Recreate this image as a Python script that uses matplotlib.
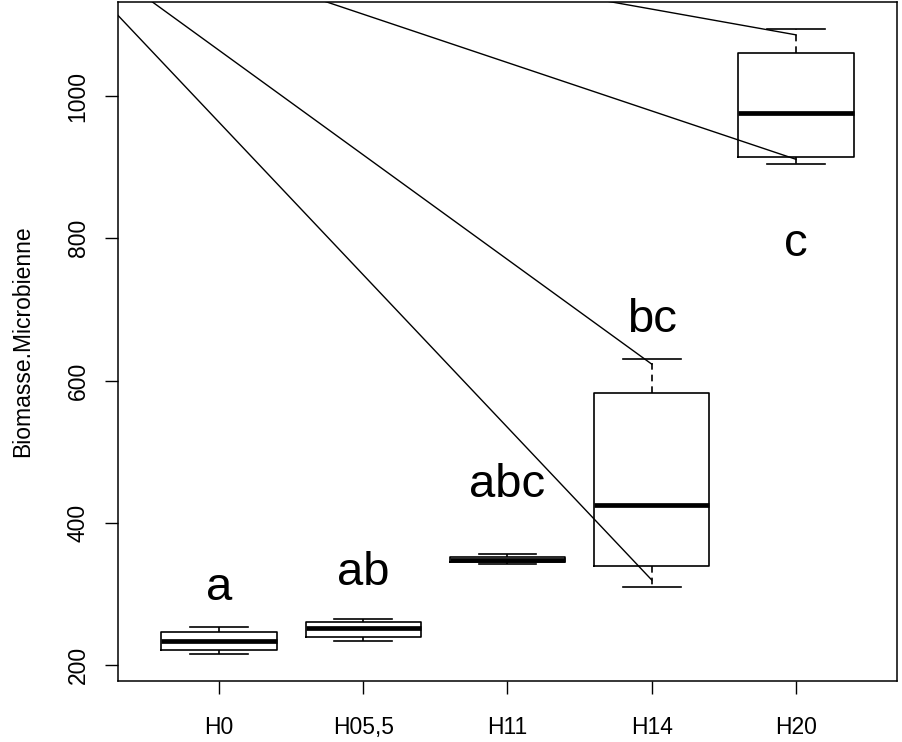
import matplotlib
matplotlib.use("Agg")
import matplotlib.pyplot as plt

# ---- data ----
categories = ["H0", "H05,5", "H11", "H14", "H20"]
whisker_low = [215, 234, 342, 310, 904]
q1 = [221, 239, 345, 339, 914]
median = [234, 252, 348, 425, 976]
q3 = [246, 260, 352, 583, 1060]
whisker_high = [254, 264, 356, 630, 1094]

letters = ["a", "ab", "abc", "bc", "c"]
letter_y = [291, 312, 436, 668, 775]

yticks = [200, 400, 600, 800, 1000]
ylabel = "Biomasse.Microbienne"

# straight lines drawn from a common (off-plot) origin to some whisker ends
line_origin_x = -0.5
line_origin_y = 1285
line_end_x = [4, 4, 5, 5]
line_end_y = [319.5, 623, 911, 1086]

plt.rcParams['font.family'] = ['Liberation Sans', 'DejaVu Sans']

fig = plt.figure(figsize=(9.03, 7.42), dpi=100)
ax = fig.add_axes([118 / 903, 1 - 681 / 742, 779 / 903, 679 / 742])

positions = list(range(1, len(categories) + 1))
stats = []
for i in range(len(categories)):
    stats.append(dict(med=median[i], q1=q1[i], q3=q3[i],
                      whislo=whisker_low[i], whishi=whisker_high[i],
                      fliers=[], label=categories[i]))

lw = 1.2
ax.bxp(stats, positions=positions, widths=0.8, capwidths=0.4,
       showfliers=False,
       boxprops=dict(color='black', linewidth=lw),
       whiskerprops=dict(color='black', linewidth=lw, linestyle=(0, (4, 3))),
       capprops=dict(color='black', linewidth=lw),
       medianprops=dict(color='black', linewidth=3.4, solid_capstyle='butt'))

for ex, ey in zip(line_end_x, line_end_y):
    ax.plot([line_origin_x, ex], [line_origin_y, ey], color='black', linewidth=1.0)

for x, lab, y in zip(positions, letters, letter_y):
    ax.text(x, y, lab, ha='center', va='baseline', fontsize=34)

ax.set_xlim(0.3, 5.7)
ax.set_ylim(177.5, 1132.2)

ax.set_xticks(positions)
ax.set_xticklabels(categories)
ax.set_yticks(yticks)
ax.set_yticklabels([str(v) for v in yticks], rotation=90, va='center')

ax.tick_params(axis='both', direction='out', length=9.4, width=1.0,
               labelsize=16.5, color='black')
ax.tick_params(axis='x', pad=16)
ax.tick_params(axis='y', pad=11)

for s in ax.spines.values():
    s.set_linewidth(1.1)
    s.set_color('black')

ax.set_ylabel(ylabel, fontsize=16.5, va='center')
ax.yaxis.set_label_coords(-0.122, 0.5)

fig.savefig("out.png", dpi=100)
